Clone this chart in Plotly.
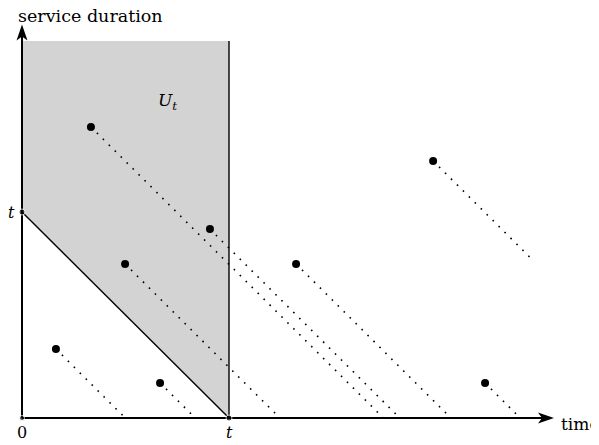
import plotly.graph_objects as go

# ---- data (time unit: t = 1) ----
T = 1.0
U_TOP = 1.83                      # top of shaded region U_t
arrival = [0.164, 0.667, 0.498, 0.333, 0.908, 1.324, 1.986, 2.237]
service = [0.335, 0.170, 0.748, 1.413, 0.917, 0.748, 1.248, 0.170]
trail = [0.335, 0.170, 0.748, 1.413, 0.917, 0.748, 0.483, 0.170]  # drawn part of remaining-service trail
X_END = 2.57
Y_END = 1.91
x_labels = ["0", "<i>t</i>"]
x_label_pos = [0.0, T]

fig = go.Figure()

# shaded region U_t
fig.add_trace(go.Scatter(x=[0, 0, T, T, 0], y=[T, U_TOP, U_TOP, 0, T], fill="toself",
                         fillcolor="#d3d3d3", line=dict(width=0), mode="lines", hoverinfo="skip"))
# border of U_t
fig.add_trace(go.Scatter(x=[T, T], y=[0, U_TOP], mode="lines", line=dict(color="black", width=1.4)))
fig.add_trace(go.Scatter(x=[0, T], y=[T, 0], mode="lines", line=dict(color="black", width=1.4)))

# trails
for a, s, d in zip(arrival, service, trail):
    fig.add_trace(go.Scatter(x=[a, a + d], y=[s, s - d], mode="lines",
                             line=dict(color="black", width=1.6, dash="1.6px,6.8px")))

# axes
fig.add_trace(go.Scatter(x=[0, X_END - 0.05], y=[0, 0], mode="lines", line=dict(color="black", width=2)))
fig.add_trace(go.Scatter(x=[0, 0], y=[0, Y_END - 0.05], mode="lines", line=dict(color="black", width=2)))

# points
fig.add_trace(go.Scatter(x=arrival, y=service, mode="markers", marker=dict(color="black", size=8)))
fig.add_trace(go.Scatter(x=[0, T, 0], y=[T, 0, 0], mode="markers", marker=dict(color="black", size=[6, 6, 5])))

# arrowheads
fig.add_shape(type="path", xsizemode="pixel", ysizemode="pixel", xanchor=X_END, yanchor=0,
              path="M0,0 L-16,5.5 L-12,0 L-16,-5.5 Z", fillcolor="black", line=dict(width=0))
fig.add_shape(type="path", xsizemode="pixel", ysizemode="pixel", xanchor=0, yanchor=Y_END,
              path="M0,0 L-5.5,-16 L0,-12 L5.5,-16 Z", fillcolor="black", line=dict(width=0))

FONT = "DejaVu Serif"
for lab, xp in zip(x_labels, x_label_pos):
    fig.add_annotation(x=xp, y=0, text=lab, showarrow=False, yanchor="top", yshift=-3,
                       font=dict(family=FONT, size=16, color="black"))
fig.add_annotation(x=0, y=T, text="<i>t</i>", showarrow=False, xanchor="right", xshift=-5,
                   font=dict(family=FONT, size=16, color="black"))
fig.add_annotation(x=0, y=Y_END, text="service duration", showarrow=False, xanchor="left",
                   yanchor="bottom", xshift=-6, yshift=-3, font=dict(family=FONT, size=17.5, color="black"))
fig.add_annotation(x=X_END, y=0, text="time", showarrow=False, xanchor="left", xshift=5,
                   yshift=-6, font=dict(family=FONT, size=17, color="black"))
fig.add_annotation(x=0.705, y=1.535, text="<i>U</i><sub><i>t</i></sub>", showarrow=False,
                   font=dict(family=FONT, size=17, color="black"))

# page body adds an 8px offset; size and ranges compensate so marks land where the reference has them
fig.update_layout(width=591, height=437, margin=dict(l=0, r=0, t=0, b=0),
                  paper_bgcolor="white", plot_bgcolor="white", showlegend=False,
                  xaxis=dict(range=[-14 / 207, 577 / 207], visible=False, fixedrange=True),
                  yaxis=dict(range=[-27 / 206, 410 / 206], visible=False, fixedrange=True))
fig.write_html("out.html")
